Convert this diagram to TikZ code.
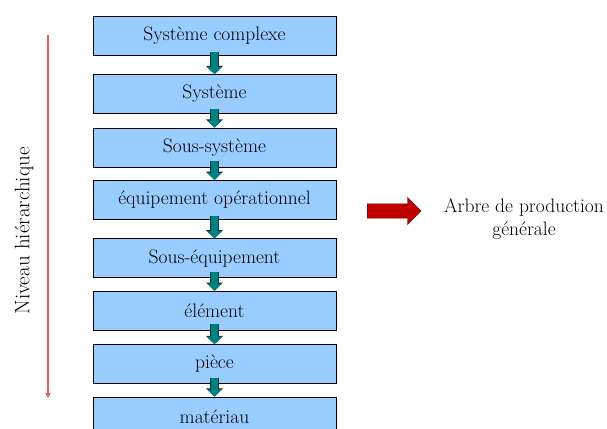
\documentclass[tikz,border=0pt]{standalone}
\usepackage{fontspec}
\usepackage{tikz}
\usetikzlibrary{positioning, arrows.meta, shapes.arrows}
\definecolor{boxblue}{RGB}{153,204,255}
\definecolor{linkteal}{RGB}{0,128,128}
\definecolor{linkdark}{RGB}{15,55,55}
\definecolor{levelred}{RGB}{225,95,95}
\definecolor{blockred}{RGB}{192,0,0}
\definecolor{blockdark}{RGB}{90,0,0}
\tikzset{>=stealth, % pointed head for the level arrow
level/.style={draw, fill=boxblue, minimum width=243pt, minimum height=39pt, inner sep=0pt, font=\fontsize{19.5}{23}\selectfont}, % one box per level
link/.style={draw=linkteal, line width=7pt, -{Triangle[width=14pt,length=7pt]}, preaction={draw=linkdark, line width=8.6pt, -{Triangle[width=16.5pt,length=8.3pt]}}}, % teal arrows between the boxes
}

\begin{document}
\begin{tikzpicture}[x=1pt, y=-1pt]
\useasboundingbox (0,0) rectangle (607,428);
\node[level] (sc) at (214.5,35.5) {Système complexe};
\node[level, below=19pt of sc] (sys) {Système};
\node[level, below=14pt of sys] (ssys) {Sous-système};
\node[level, below=13pt of ssys] (eqop) {équipement opérationnel};
\node[level, below=19pt of eqop] (seq) {Sous-équipement};
\node[level, below=13pt of seq] (elt) {élément};
\node[level, below=14pt of elt] (pc) {pièce};
\node[level, below=13pt of pc] (mat) {matériau};

\coordinate (lvltop) at (48,35);
\coordinate (lvlbot) at (48,398);
\node[rotate=90, font=\fontsize{21}{24}\selectfont] (lvl) at (24,231) {Niveau hiérarchique};

\node[single arrow, draw=blockdark, fill=blockred, minimum height=54pt, inner xsep=0pt, inner ysep=7pt, single arrow head extend=6.5pt, single arrow head indent=0pt, anchor=west] (blk) at (367,211) {};
\node[align=center, font=\fontsize{19.5}{23}\selectfont] (apg) at (524,219) {Arbre de production\\générale};

\draw[->, levelred, line width=1.4pt] (lvltop) -- (lvlbot);
\path
([yshift=3pt]sc.south) edge[link] (sys.north)
([yshift=5pt]sys.south) edge[link] (ssys.north)
([yshift=6pt]ssys.south) edge[link] (eqop.north)
([yshift=3pt]eqop.south) edge[link] (seq.north)
([yshift=6pt]seq.south) edge[link] (elt.north)
([yshift=6pt]elt.south) edge[link] (pc.north)
([yshift=6pt]pc.south) edge[link] (mat.north);

\end{tikzpicture}
\end{document}
